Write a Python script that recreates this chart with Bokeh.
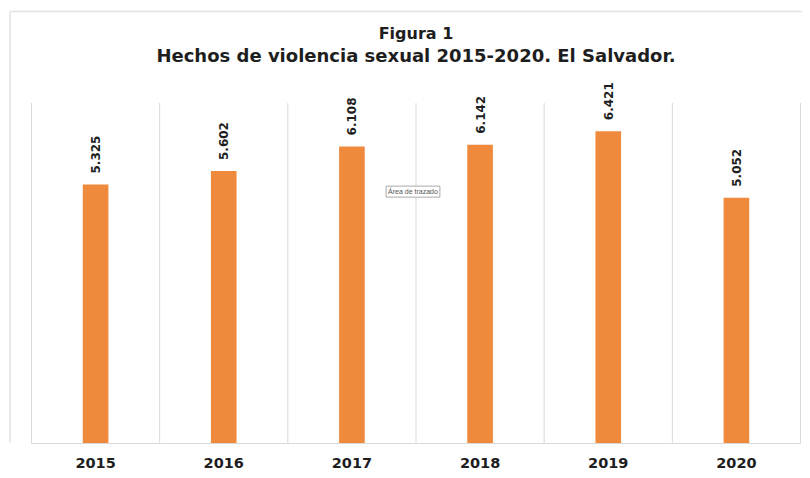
from bokeh.plotting import figure
from bokeh.models import ColumnDataSource, FixedTicker, Range1d, Label
from bokeh.core.properties import value
from bokeh.embed import file_html
from bokeh.resources import INLINE

# ---- data ----
years = ["2015", "2016", "2017", "2018", "2019", "2020"]
hechos = [5325, 5602, 6108, 6142, 6421, 5052]
title_line1 = "Figura 1"
title_line2 = "Hechos de violencia sexual 2015-2020. El Salvador."

# ---- layout (pixels) ----
W, H = 802, 470
PLOT_L, PLOT_R = 31, 800        # plot-area edges inside the canvas
PLOT_T, PLOT_B = 103, 445
Y_MAX = 7000
n = len(years)
ux = (PLOT_R - PLOT_L) / n       # px per category
uy = (PLOT_B - PLOT_T) / Y_MAX   # px per unit

xs = list(range(1, n + 1))
labels = [f"{v:,}".replace(",", ".") for v in hechos]
src = ColumnDataSource(dict(x=xs, top=hechos, lab=labels))

FONT = "DejaVu Sans"
TXT = "#1e1e1e"
GRID = "#d9d9d9"
ORANGE = "#EF8A3D"

x_range = Range1d(0.5 - PLOT_L / ux, n + 0.5 + (W - PLOT_R) / ux)
y_range = Range1d(0, PLOT_B / uy)

p = figure(width=W, height=H, output_backend="svg", toolbar_location=None,
           x_range=x_range, y_range=y_range, y_axis_location=None,
           min_border_left=0, min_border_right=0, min_border_top=0,
           min_border_bottom=H - PLOT_B)
p.outline_line_color = None
p.border_fill_color = "white"
p.background_fill_color = "white"
p.grid.visible = False

def sx(px):  # canvas px -> data x
    return x_range.start + px / ux

def sy(py):  # canvas px (from top) -> data y
    return (PLOT_B - py) / uy

# outer chart-area frame (top & left edges)
p.segment(x0=[sx(9.5), sx(9.5)], y0=[sy(11), sy(11)], x1=[sx(W), sx(9.5)], y1=[sy(11), 0],
          line_color="#e2e2e2", line_width=1.5)

# vertical category separators
seps = [i + 0.5 for i in range(n + 1)]
p.segment(x0=seps, y0=[0] * len(seps), x1=seps, y1=[Y_MAX] * len(seps),
          line_color=GRID, line_width=1)

p.vbar(x="x", top="top", width=0.2, source=src, color=ORANGE, line_color=None)
p.text(x="x", y="top", text="lab", source=src, angle=1.5708, y_offset=-11,
       text_align="left", text_baseline="middle", text_font=value(FONT),
       text_font_style="bold", text_font_size="12px", text_color=TXT)

# titles
p.text(x=[(n + 1) / 2], y=[sy(33)], text=[title_line1],
       text_align="center", text_baseline="middle", text_font=value(FONT),
       text_font_style="bold", text_font_size="16px", text_color=TXT)
p.text(x=[(n + 1) / 2], y=[sy(55)], text=[title_line2],
       text_align="center", text_baseline="middle", text_font=value(FONT),
       text_font_style="bold", text_font_size="18px", text_color=TXT)

p.xaxis.ticker = FixedTicker(ticks=xs)
p.xaxis.bounds = (0.5, n + 0.5)
p.xaxis.major_label_overrides = {x: y for x, y in zip(xs, years)}
p.xaxis.major_tick_line_color = None
p.xaxis.minor_tick_line_color = None
p.xaxis.axis_line_color = GRID
p.xaxis.major_label_standoff = 8
p.xaxis.major_label_text_font = FONT
p.xaxis.major_label_text_font_style = "bold"
p.xaxis.major_label_text_font_size = "14.5px"
p.xaxis.major_label_text_color = TXT

p.add_layout(Label(x=sx(412.5), y=sy(192), text="Área de trazado", text_align="center",
                   text_baseline="middle", text_font="Liberation Sans", text_font_size="7px",
                   text_color="#555555", border_line_color="#aaaaaa",
                   background_fill_color="white", padding=2))

open("out.html", "w").write(file_html(p, INLINE))
